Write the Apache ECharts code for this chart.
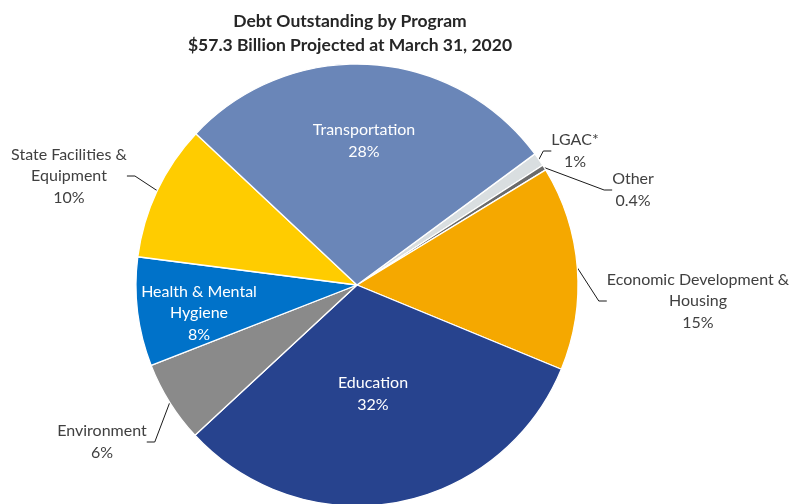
<!DOCTYPE html>
<html>
<head>
<meta charset="utf-8">
<script src="https://cdn.jsdelivr.net/npm/echarts@6/dist/echarts.min.js"></script>
<style>
  html, body { margin: 0; padding: 0; background: #ffffff; }
  #chart { width: 790px; height: 504px; }
</style>
</head>
<body>
<div id="chart"></div>
<script>
// Debt outstanding by program, share of total (percent)
const programs = [
  'LGAC*',
  'Other',
  'Economic Development &\nHousing',
  'Education',
  'Environment',
  'Health & Mental\nHygiene',
  'State Facilities &\nEquipment',
  'Transportation'
];
const shares = [1, 0.4, 15, 32, 6, 8, 10, 28];
const sliceColors = ['#D9DEE0', '#6B6B6B', '#F5A800', '#27438E', '#8A8A8A', '#0072C9', '#FFCC00', '#6A86B8'];
const titleLines = ['Debt Outstanding by Program', '$57.3 Billion Projected at March 31, 2020'];

// Labels drawn inside their slice (white text)
const insideNames = ['Education', 'Health & Mental\nHygiene', 'Transportation'];

// Label anchor points (label centre), keyed by category
const labelSpots = {
  'LGAC*': [575, 151],
  'Other': [633, 190],
  'Economic Development &\nHousing': [698, 301],
  'Education': [373, 394],
  'Environment': [102, 442],
  'Health & Mental\nHygiene': [199, 313],
  'State Facilities &\nEquipment': [69, 176],
  'Transportation': [364, 141]
};

const FONT = 'Lato, "Open Sans", sans-serif';

const fmtShare = v => (v < 1 ? v.toFixed(1) : String(Math.round(v))) + '%';

const data = programs.map((name, i) => {
  const inside = insideNames.includes(name);
  return {
    name: name,
    value: shares[i],
    itemStyle: { color: sliceColors[i] },
    label: {
      position: inside ? 'inside' : 'outside',
      color: inside ? '#FFFFFF' : '#404040'
    },
    labelLine: { show: !inside }
  };
});

const chart = echarts.init(document.getElementById('chart'), null, { renderer: 'canvas' });

chart.setOption({
  animation: false,
  backgroundColor: '#FFFFFF',
  title: {
    text: titleLines.join('\n'),
    left: 345,
    top: 5,
    textAlign: 'center',
    textStyle: {
      fontFamily: FONT,
      fontSize: 17.5,
      fontWeight: 'bold',
      color: '#262626',
      lineHeight: 23.5
    }
  },
  series: [{
    type: 'pie',
    center: [357, 285],
    radius: [0, 221],
    startAngle: 36.4,
    clockwise: true,
    avoidLabelOverlap: false,
    itemStyle: { borderColor: '#FFFFFF', borderWidth: 1.3 },
    label: {
      show: true,
      fontFamily: FONT,
      fontSize: 16,
      lineHeight: 21.5,
      align: 'center',
      formatter: p => p.name + '\n' + fmtShare(p.value)
    },
    labelLine: {
      show: true,
      length: 8,
      length2: 8,
      smooth: false,
      lineStyle: { color: '#1A1A1A', width: 1 }
    },
    labelLayout: params => {
      const spot = labelSpots[programs[params.dataIndex]];
      return {
        x: spot[0],
        y: spot[1],
        align: 'center',
        verticalAlign: 'middle'
      };
    },
    data: data
  }]
});
</script>
</body>
</html>
